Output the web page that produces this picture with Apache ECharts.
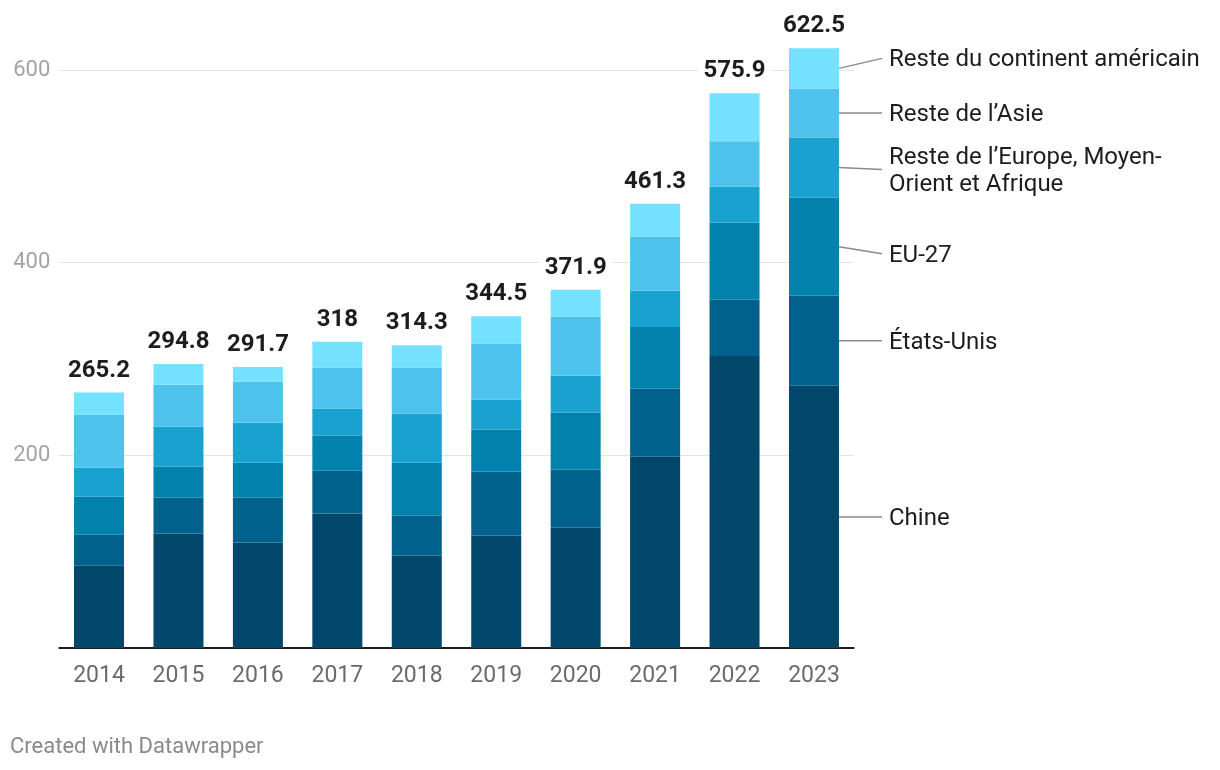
<!DOCTYPE html>
<html>
<head>
<meta charset="utf-8">
<script src="https://cdn.jsdelivr.net/npm/echarts@6/dist/echarts.min.js"></script>
<style>
html,body{margin:0;padding:0;background:#fff;}
#c{width:1220px;height:770px;}
</style>
</head>
<body>
<div id="c"></div>
<script>
const categories = ['2014','2015','2016','2017','2018','2019','2020','2021','2022','2023'];
const chine      = [85.5, 118.9, 109.4, 139.5, 95.8, 116.8, 124.9, 198.6, 303.2, 272.2];
const etatsUnis  = [32.1, 37.4, 46.9, 44.6, 41.6, 66.5, 60.2, 70.7, 58.2, 93.4];
const eu27       = [39.5, 32.0, 36.1, 36.4, 55.0, 43.6, 59.2, 64.0, 80.2, 101.9];
const resteEurope= [30.1, 41.5, 41.5, 28.0, 50.9, 31.2, 38.4, 37.5, 37.4, 62.4];
const resteAsie  = [55.1, 43.6, 42.6, 42.6, 47.8, 58.1, 61.3, 56.0, 47.1, 51.0];
const resteAmer  = [22.9, 21.4, 15.2, 26.9, 23.2, 28.3, 27.9, 34.5, 49.8, 41.6];
const totals     = ['265.2','294.8','291.7','318','314.3','344.5','371.9','461.3','575.9','622.5'];
const seriesNames = ['Chine','États-Unis','EU-27','Reste de l’Europe, Moyen-\nOrient et Afrique','Reste de l’Asie','Reste du continent américain'];
const yTicks = [200, 400, 600];

const colors = ['#01476c','#00628c','#0182ac','#19a2cf','#4dc2ed','#74e2ff'];
const labelOffsets = [0, 0, 7, 2, 0, -10];
const seriesData = [chine, etatsUnis, eu27, resteEurope, resteAsie, resteAmer];
const FONT = 'Roboto, "Noto Sans", sans-serif';

const chart = echarts.init(document.getElementById('c'), null, {renderer:'canvas'});

const series = seriesData.map((d, i) => {
  const s = {
    name: seriesNames[i],
    type: 'bar',
    stack: 'total',
    data: d,
    barWidth: 50,
    itemStyle: {color: colors[i]},
    emphasis: {disabled: true},
    animation: false
  };
  if (i === seriesData.length - 1) {
    s.label = {
      show: true,
      position: 'top',
      distance: 10,
      formatter: p => totals[p.dataIndex],
      fontFamily: FONT,
      fontSize: 24,
      fontWeight: 'bold',
      color: '#1d1d1d',
      backgroundColor: '#fff',
      padding: [0, 5]
    };
  }
  return s;
});

chart.setOption({
  animation: false,
  grid: {left: 59.3, right: 366.3, top: 31.5, bottom: 122},
  xAxis: {
    type: 'category',
    data: categories,
    axisTick: {show: false},
    axisLine: {show: true, lineStyle: {color: '#1d1d1d', width: 2}},
    axisLabel: {fontFamily: FONT, fontSize: 23, color: '#6b6b6b', margin: 17}
  },
  yAxis: {
    type: 'value',
    min: 0,
    max: 640,
    interval: 200,
    axisLine: {show: false},
    axisTick: {show: false},
    axisLabel: {
      fontFamily: FONT, fontSize: 22, color: '#a3a3a3', margin: 9,
      showMinLabel: false, showMaxLabel: false,
      formatter: v => (yTicks.indexOf(v) >= 0 ? String(v) : '')
    },
    splitLine: {show: true, showMinLine: false, showMaxLine: false, lineStyle: {color: '#e3e3e3', width: 1}}
  },
  series: series
});

// Right-side direct labels with connector lines, positioned via the chart's own scales
const last = categories.length - 1;
const xCenter = chart.convertToPixel({xAxisIndex: 0}, categories[last]);
const barRight = xCenter + 25;
const graphics = [];
let cum = 0;
seriesData.forEach((d, i) => {
  const bottom = cum;
  const top = cum + d[last];
  cum = top;
  const yMid = (chart.convertToPixel({yAxisIndex: 0}, bottom) + chart.convertToPixel({yAxisIndex: 0}, top)) / 2;
  const yLab = yMid + labelOffsets[i];
  graphics.push({
    type: 'line',
    shape: {x1: barRight, y1: yMid, x2: barRight + 43, y2: yLab},
    style: {stroke: '#8a8a8a', lineWidth: 1.5},
    silent: true
  });
  graphics.push({
    type: 'text',
    x: barRight + 50,
    y: yLab + 2,
    style: {
      text: seriesNames[i],
      fontFamily: FONT,
      fontSize: 24,
      fill: '#1d1d1d',
      verticalAlign: 'middle',
      align: 'left',
      lineHeight: 27
    },
    silent: true
  });
});
graphics.push({
  type: 'text',
  x: 10,
  y: 747,
  style: {text: 'Created with Datawrapper', fontFamily: FONT, fontSize: 22, fill: '#8a8a8a', verticalAlign: 'middle'},
  silent: true
});
chart.setOption({graphic: graphics});
</script>
</body>
</html>
